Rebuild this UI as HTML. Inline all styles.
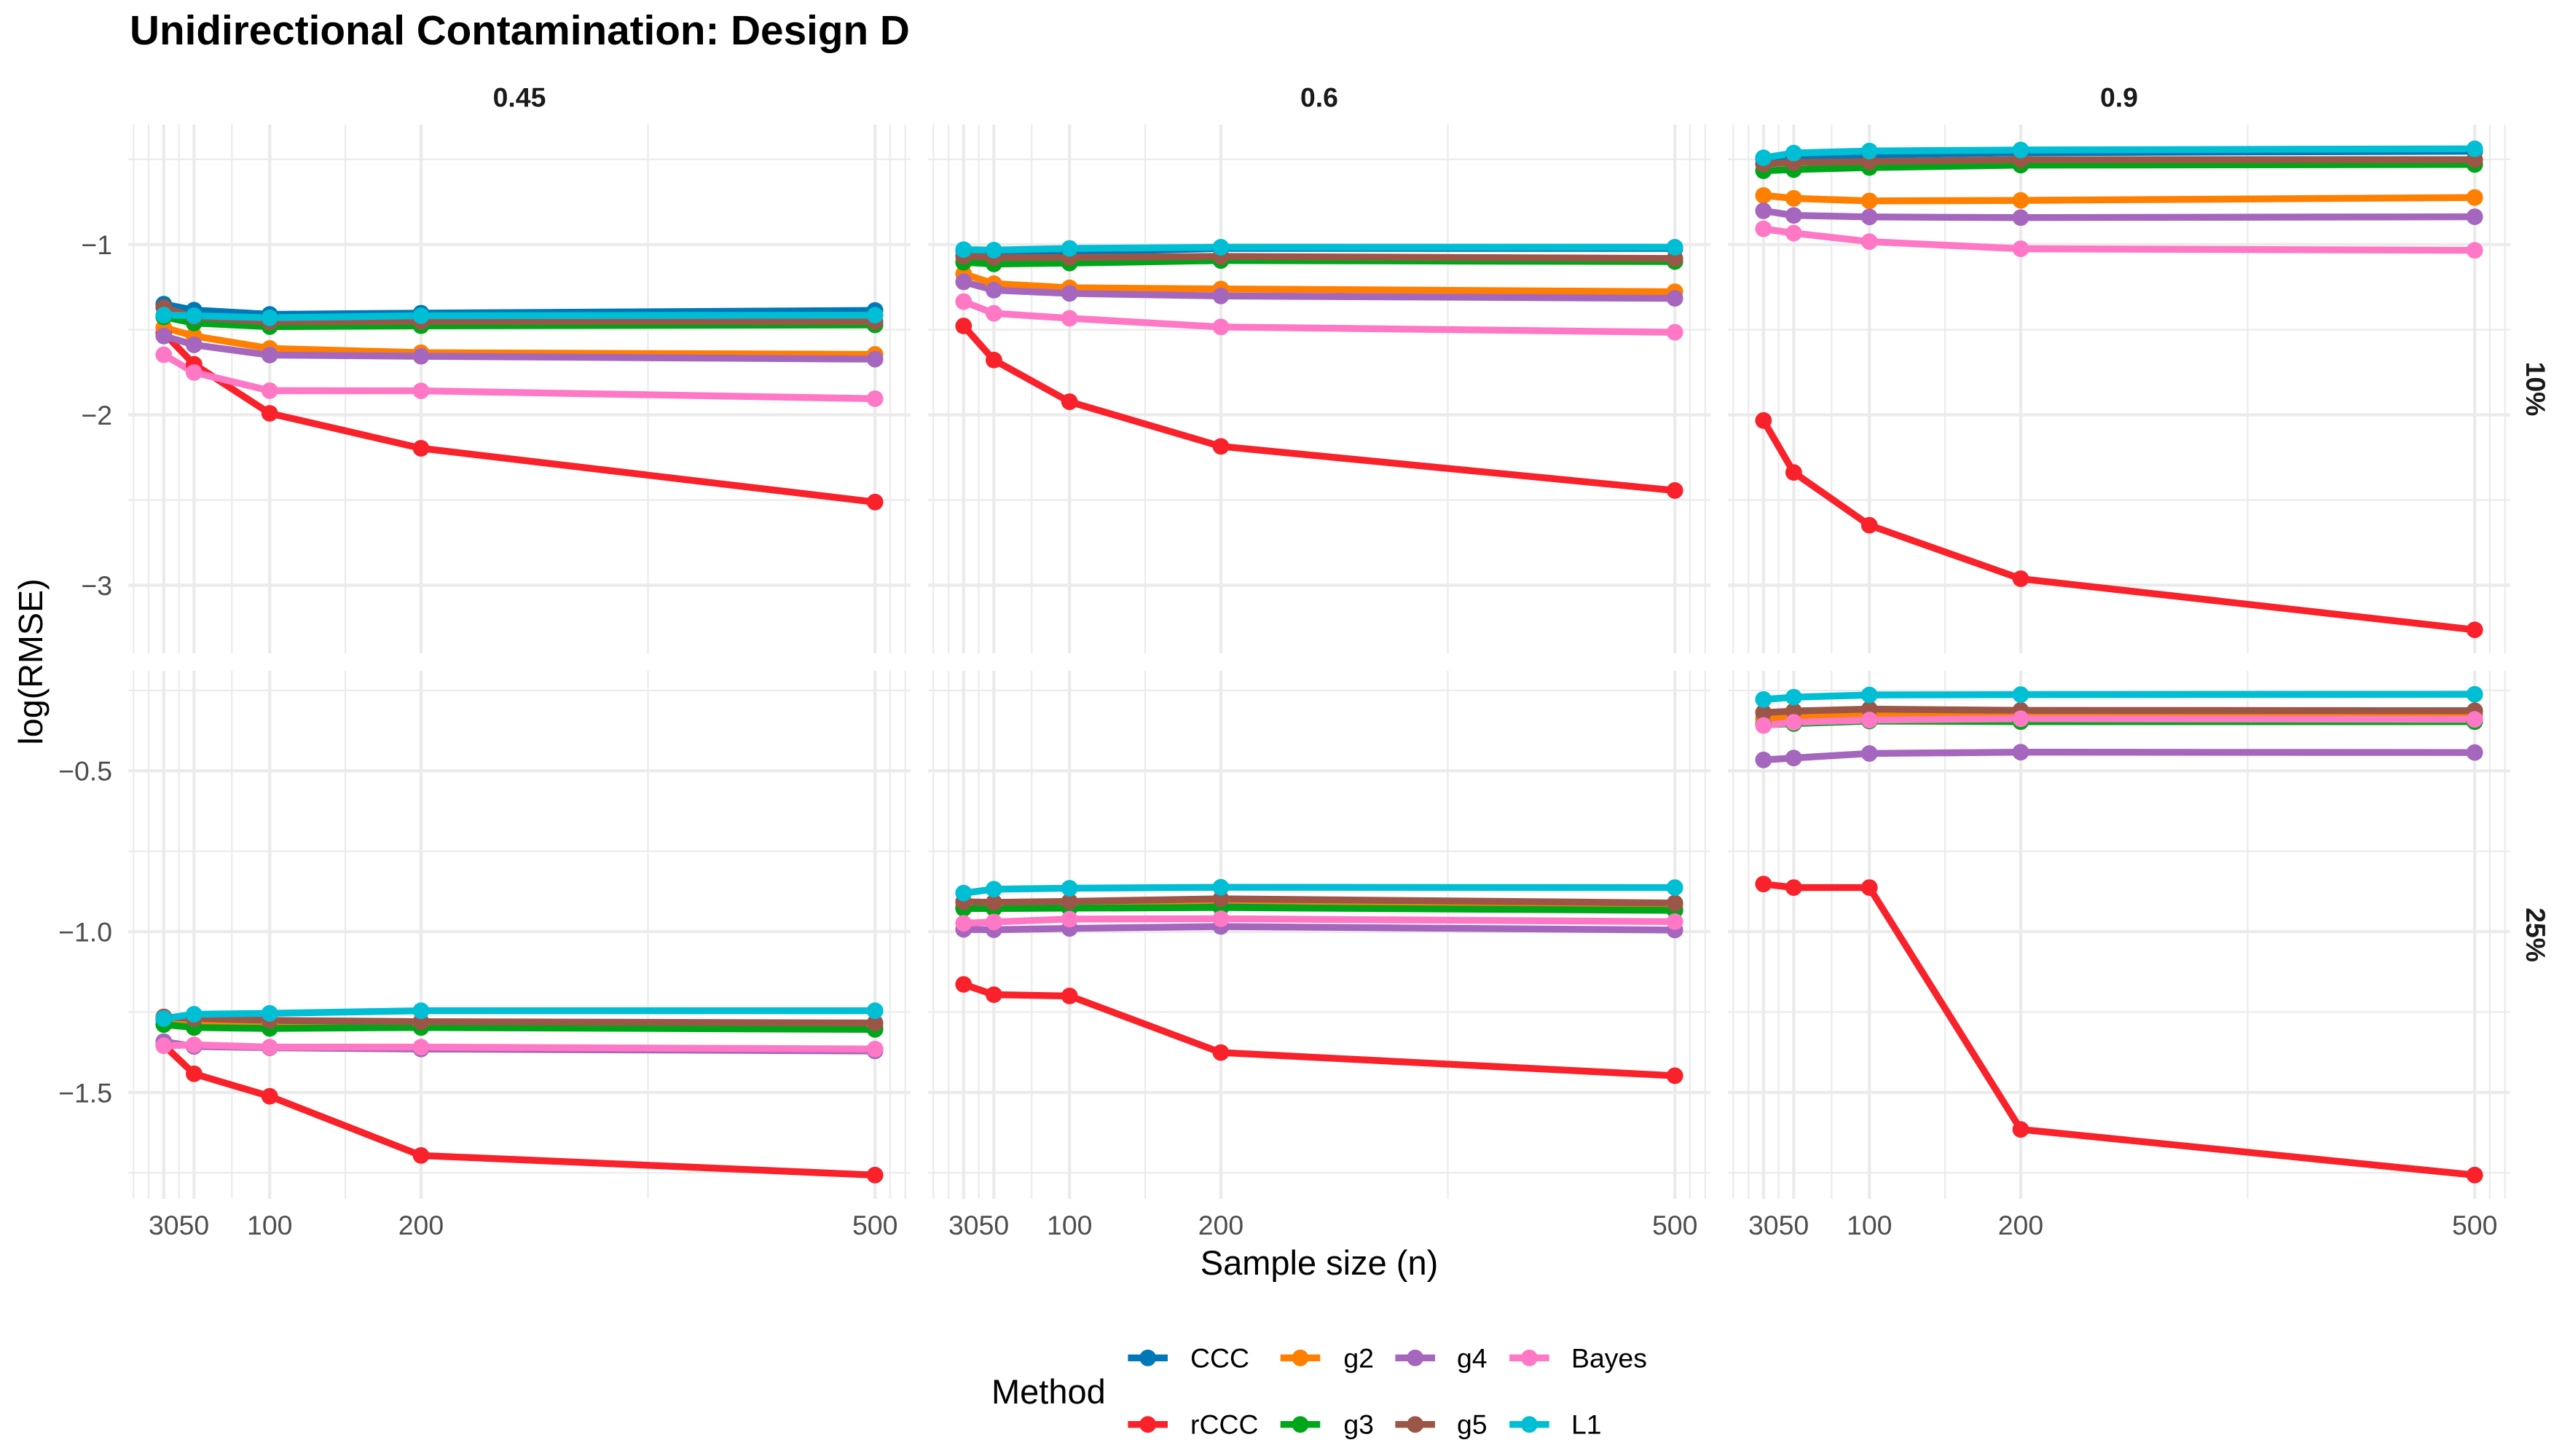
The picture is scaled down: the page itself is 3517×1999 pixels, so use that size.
<!DOCTYPE html>
<html lang="en">
<head>
<meta charset="utf-8">
<title>Unidirectional Contamination: Design D</title>
<style>
html,body{margin:0;padding:0;background:#fff;width:3517px;height:1999px;overflow:hidden}
svg{display:block;font-family:"Liberation Sans",Arial,sans-serif}
</style>
</head>
<body>
<svg id="chart" xmlns="http://www.w3.org/2000/svg" width="3517" height="1999" viewBox="0 0 3517 1999">
  <rect x="0" y="0" width="3517" height="1999" fill="#ffffff"/>
  <text x="178" y="61" font-size="56.7" font-weight="bold" fill="#000">Unidirectional Contamination: Design D</text>
  <text x="1811" y="1750" font-size="47" text-anchor="middle" fill="#000">Sample size (n)</text>
  <text transform="translate(58 908.5) rotate(-90)" font-size="46.7" text-anchor="middle" fill="#000">log(RMSE)</text>
  <text x="1361" y="1927" font-size="47" fill="#000">Method</text>
  <g id="panels"></g>
  <g id="legend"></g>
</svg>
<script>
// ---- categories and ticks ----
const sampleSizes = [30, 50, 100, 200, 500];
const xMinorBreaks = [10, 20, 40, 75, 150, 350, 510, 520];
const methods = ['CCC', 'rCCC', 'g2', 'g3', 'g4', 'g5', 'Bayes', 'L1'];
const columnLabels = ['0.45', '0.6', '0.9'];
const rowLabels = ['10%', '25%'];
const yTicksRow10 = [-1, -2, -3];
const yMinorRow10 = [-0.5, -1.5, -2.5];
const yTickLabelsRow10 = ['\u22121', '\u22122', '\u22123'];
const yTicksRow25 = [-0.5, -1.0, -1.5];
const yMinorRow25 = [-0.25, -0.75, -1.25, -1.75];
const yTickLabelsRow25 = ['\u22120.5', '\u22121.0', '\u22121.5'];
const yDomainRow10 = [-3.4, -0.2957];
const yDomainRow25 = [-1.831, -0.189];

// ---- series values: column 0.45, contamination 10% ----
const CCC_045_10 = [-1.350, -1.385, -1.410, -1.403, -1.387];
const rCCC_045_10 = [-1.519, -1.703, -1.991, -2.196, -2.512];
const g2_045_10 = [-1.487, -1.537, -1.610, -1.635, -1.645];
const g3_045_10 = [-1.425, -1.461, -1.482, -1.477, -1.472];
const g4_045_10 = [-1.537, -1.589, -1.649, -1.656, -1.673];
const g5_045_10 = [-1.370, -1.425, -1.454, -1.451, -1.452];
const Bayes_045_10 = [-1.647, -1.751, -1.858, -1.859, -1.905];
const L1_045_10 = [-1.414, -1.418, -1.430, -1.418, -1.415];

// ---- column 0.6, contamination 10% ----
const CCC_06_10 = [-1.036, -1.040, -1.045, -1.023, -1.023];
const rCCC_06_10 = [-1.478, -1.678, -1.923, -2.185, -2.444];
const g2_06_10 = [-1.172, -1.230, -1.254, -1.261, -1.277];
const g3_06_10 = [-1.104, -1.114, -1.109, -1.094, -1.100];
const g4_06_10 = [-1.219, -1.268, -1.287, -1.302, -1.316];
const g5_06_10 = [-1.069, -1.076, -1.076, -1.070, -1.082];
const Bayes_06_10 = [-1.335, -1.404, -1.433, -1.484, -1.515];
const L1_06_10 = [-1.030, -1.033, -1.023, -1.016, -1.016];

// ---- column 0.9, contamination 10% ----
const CCC_09_10 = [-0.497, -0.484, -0.474, -0.461, -0.452];
const rCCC_09_10 = [-2.033, -2.338, -2.648, -2.962, -3.262];
const g2_09_10 = [-0.712, -0.729, -0.744, -0.741, -0.724];
const g3_09_10 = [-0.567, -0.560, -0.548, -0.534, -0.530];
const g4_09_10 = [-0.802, -0.829, -0.838, -0.842, -0.837];
const g5_09_10 = [-0.527, -0.519, -0.513, -0.502, -0.502];
const Bayes_09_10 = [-0.908, -0.933, -0.983, -1.025, -1.034];
const L1_09_10 = [-0.491, -0.463, -0.451, -0.445, -0.438];

// ---- column 0.45, contamination 25% ----
const CCC_045_25 = [-1.274, -1.281, -1.289, -1.293, -1.297];
const rCCC_045_25 = [-1.353, -1.442, -1.512, -1.696, -1.757];
const g2_045_25 = [-1.267, -1.278, -1.285, -1.288, -1.293];
const g3_045_25 = [-1.289, -1.298, -1.301, -1.298, -1.304];
const g4_045_25 = [-1.342, -1.357, -1.361, -1.365, -1.371];
const g5_045_25 = [-1.265, -1.270, -1.276, -1.280, -1.284];
const Bayes_045_25 = [-1.355, -1.352, -1.359, -1.359, -1.365];
const L1_045_25 = [-1.270, -1.257, -1.254, -1.246, -1.246];

// ---- column 0.6, contamination 25% ----
const CCC_06_25 = [-0.925, -0.925, -0.924, -0.923, -0.932];
const rCCC_06_25 = [-1.164, -1.196, -1.200, -1.376, -1.448];
const g2_06_25 = [-0.912, -0.914, -0.911, -0.902, -0.919];
const g3_06_25 = [-0.928, -0.928, -0.927, -0.925, -0.934];
const g4_06_25 = [-0.993, -0.994, -0.990, -0.984, -0.995];
const g5_06_25 = [-0.907, -0.909, -0.906, -0.898, -0.911];
const Bayes_06_25 = [-0.974, -0.970, -0.961, -0.960, -0.969];
const L1_06_25 = [-0.880, -0.868, -0.865, -0.862, -0.863];

// ---- column 0.9, contamination 25% ----
const CCC_09_25 = [-0.354, -0.350, -0.344, -0.345, -0.345];
const rCCC_09_25 = [-0.852, -0.863, -0.863, -1.615, -1.757];
const g2_09_25 = [-0.338, -0.334, -0.324, -0.323, -0.325];
const g3_09_25 = [-0.357, -0.353, -0.345, -0.347, -0.347];
const g4_09_25 = [-0.466, -0.460, -0.446, -0.442, -0.443];
const g5_09_25 = [-0.319, -0.314, -0.308, -0.312, -0.313];
const Bayes_09_25 = [-0.359, -0.349, -0.342, -0.338, -0.340];
const L1_09_25 = [-0.278, -0.271, -0.264, -0.263, -0.262];

// ---- lookups (order: rows > columns > methods) ----
const panelSeries = [
  [
    [CCC_045_10, rCCC_045_10, g2_045_10, g3_045_10, g4_045_10, g5_045_10, Bayes_045_10, L1_045_10],
    [CCC_06_10, rCCC_06_10, g2_06_10, g3_06_10, g4_06_10, g5_06_10, Bayes_06_10, L1_06_10],
    [CCC_09_10, rCCC_09_10, g2_09_10, g3_09_10, g4_09_10, g5_09_10, Bayes_09_10, L1_09_10]
  ],
  [
    [CCC_045_25, rCCC_045_25, g2_045_25, g3_045_25, g4_045_25, g5_045_25, Bayes_045_25, L1_045_25],
    [CCC_06_25, rCCC_06_25, g2_06_25, g3_06_25, g4_06_25, g5_06_25, Bayes_06_25, L1_06_25],
    [CCC_09_25, rCCC_09_25, g2_09_25, g3_09_25, g4_09_25, g5_09_25, Bayes_09_25, L1_09_25]
  ]
];

// ---- styles and layout (not data) ----
const methodColors = {CCC:'#0077B6', rCCC:'#F9212A', g2:'#FF7F00', g3:'#00A619', g4:'#A566BE', g5:'#9C5648', Bayes:'#FF78C5', L1:'#00BED4'};
const layout = {
  panelLefts: [176, 1274, 2372],
  panelWidth: 1074,
  rowTops: [171, 921],
  rowHeights: [726, 725],
  xDomain: [6.5, 523.5],
  grid: '#EBEBEB',
  lineWidth: 9.4,
  pointRadius: 11.4
};
const yDomains = [yDomainRow10, yDomainRow25];
const yTicks = [yTicksRow10, yTicksRow25];
const yMinors = [yMinorRow10, yMinorRow25];
const yTickLabels = [yTickLabelsRow10, yTickLabelsRow25];

// ---- axis functions ----
function xScale(col, n) {
  const d = layout.xDomain;
  return layout.panelLefts[col] + (n - d[0]) / (d[1] - d[0]) * layout.panelWidth;
}
function yScale(row, v) {
  const d = yDomains[row];
  return layout.rowTops[row] + (d[1] - v) / (d[1] - d[0]) * layout.rowHeights[row];
}
const NS = 'http://www.w3.org/2000/svg';
function mk(tag, parent, attrs, text) {
  const el = document.createElementNS(NS, tag);
  for (const k in attrs) el.setAttribute(k, attrs[k]);
  if (text !== undefined) el.textContent = text;
  parent.appendChild(el);
  return el;
}

const panelsRoot = document.getElementById('panels');

// strips across the top
columnLabels.forEach((label, c) => {
  const el = mk('text', panelsRoot, {x: layout.panelLefts[c] + layout.panelWidth / 2, y: 146.5, 'font-size': 37.4, 'font-weight': 'bold', 'text-anchor': 'middle', fill: '#1A1A1A'}, label);
  
  
});
// strips on the right
rowLabels.forEach((label, r) => {
  const cy = layout.rowTops[r] + layout.rowHeights[r] / 2;
  const el = mk('text', panelsRoot, {transform: 'translate(3468 ' + cy + ') rotate(90)', 'font-size': 37.4, 'font-weight': 'bold', 'text-anchor': 'middle', fill: '#1A1A1A'}, label);
  
  
});

// y tick labels
yTicks.forEach((ticks, r) => {
  ticks.forEach((t, i) => {
    const el = mk('text', panelsRoot, {x: 154, y: yScale(r, t) + 13.4, 'font-size': 37.4, 'text-anchor': 'end', fill: '#4D4D4D'}, yTickLabels[r][i]);
    
    
  });
});
// x tick labels
columnLabels.forEach((label, c) => {
  sampleSizes.forEach(n => {
    const el = mk('text', panelsRoot, {x: xScale(c, n), y: 1695, 'font-size': 37.4, 'text-anchor': 'middle', fill: '#4D4D4D'}, String(n));
    
    
  });
});

// panels
rowLabels.forEach((rowLabel, r) => {
  columnLabels.forEach((colLabel, c) => {
    const g = mk('g', panelsRoot, {});
    
    
    const left = layout.panelLefts[c], right = left + layout.panelWidth;
    const top = layout.rowTops[r], bottom = top + layout.rowHeights[r];

    yMinors[r].forEach(v => {
      const el = mk('line', g, {x1: left, x2: right, y1: yScale(r, v), y2: yScale(r, v), stroke: layout.grid, 'stroke-width': 2.2});
      
      
    });
    xMinorBreaks.forEach(n => {
      const el = mk('line', g, {x1: xScale(c, n), x2: xScale(c, n), y1: top, y2: bottom, stroke: layout.grid, 'stroke-width': 2.2});
      
      
    });
    yTicks[r].forEach(v => {
      const el = mk('line', g, {x1: left, x2: right, y1: yScale(r, v), y2: yScale(r, v), stroke: layout.grid, 'stroke-width': 4.3});
      
      
    });
    sampleSizes.forEach(n => {
      const el = mk('line', g, {x1: xScale(c, n), x2: xScale(c, n), y1: top, y2: bottom, stroke: layout.grid, 'stroke-width': 4.3});
      
      
    });

    const series = panelSeries[r][c];
    methods.forEach((m, k) => {
      const pts = series[k].map((v, i) => xScale(c, sampleSizes[i]).toFixed(2) + ',' + yScale(r, v).toFixed(2)).join(' ');
      const el = mk('polyline', g, {points: pts, fill: 'none', stroke: methodColors[m], 'stroke-width': layout.lineWidth, 'stroke-linejoin': 'round', 'stroke-linecap': 'butt'});
      
      
    });
    methods.forEach((m, k) => {
      series[k].forEach((v, i) => {
        const el = mk('circle', g, {cx: xScale(c, sampleSizes[i]), cy: yScale(r, v), r: layout.pointRadius, fill: methodColors[m]});
        
        
      });
    });
  });
});

// legend
const legendRoot = document.getElementById('legend');
const legendCols = [1575.7, 1785, 1942.7, 2099.4];
const legendTextX = [1634, 1844.4, 2000, 2157];
const legendRows = [1864.3, 1955.7];
const legendOrder = [['CCC', 'rCCC'], ['g2', 'g3'], ['g4', 'g5'], ['Bayes', 'L1']];
legendOrder.forEach((pair, c) => {
  pair.forEach((m, r) => {
    const g = mk('g', legendRoot, {});
    
    
    const cx = legendCols[c], cy = legendRows[r];
    const ln = mk('line', g, {x1: cx - 27.3, x2: cx + 27.3, y1: cy, y2: cy, stroke: methodColors[m], 'stroke-width': layout.lineWidth});
    
    
    const pt = mk('circle', g, {cx: cx, cy: cy, r: layout.pointRadius, fill: methodColors[m]});
    
    
    const tx = mk('text', g, {x: legendTextX[c], y: cy + 13, 'font-size': 37.4, fill: '#000'}, m);
    
    
  });
});
</script>
</body>
</html>
